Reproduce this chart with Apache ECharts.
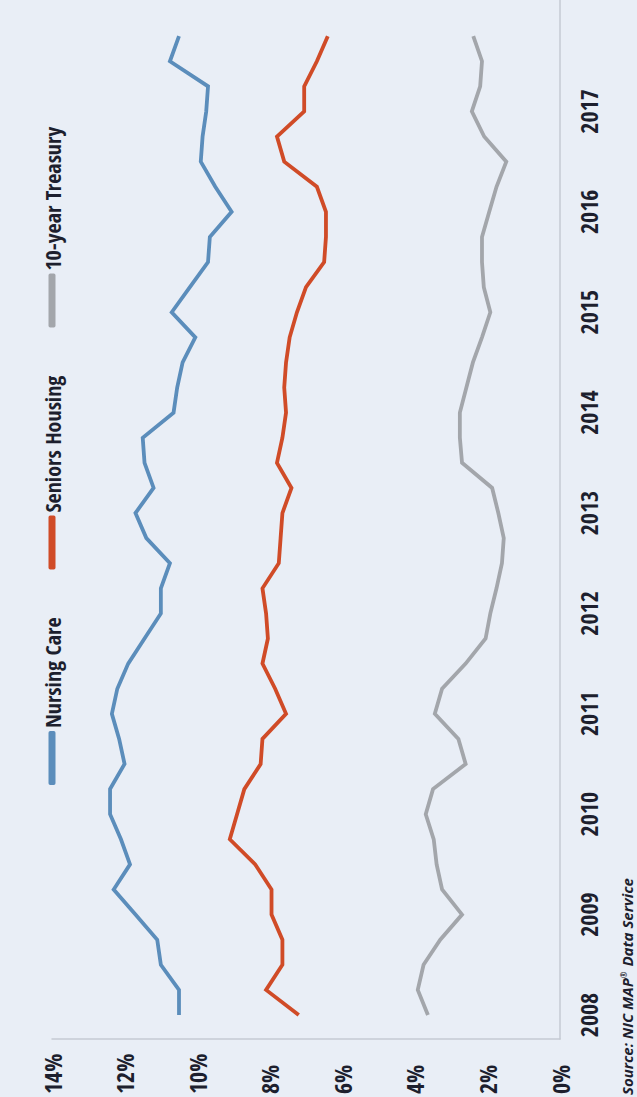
<!DOCTYPE html>
<html>
<head>
<meta charset="utf-8">
<script src="https://cdn.jsdelivr.net/npm/echarts@6/dist/echarts.min.js"></script>
<style>
html, body { margin: 0; padding: 0; width: 637px; height: 1097px; overflow: hidden; background: #e9eef6; }
#chart { position: absolute; left: 0; top: 0; width: 1097px; height: 637px;
  transform-origin: 0 0; transform: translate(0, 1097px) rotate(-90deg); }
#chart text[style*="Condensed"] { font-stretch: condensed !important; }
</style>
</head>
<body>
<div id="chart"></div>
<script>
// ---- data ----
const years = [2008, 2009, 2010, 2011, 2012, 2013, 2014, 2015, 2016, 2017];
const quarters = ['Q1', 'Q2', 'Q3', 'Q4'];
const seriesNames = ['Nursing Care', 'Seniors Housing', '10-year Treasury'];
const nursingCare = [10.5, 10.5, 11.0, 11.1, 11.7, 12.3, 11.85, 12.1, 12.4, 12.4,
  12.0, 12.15, 12.35, 12.2, 11.9, 11.45, 11.0, 11.0, 10.75, 11.4,
  11.7, 11.2, 11.45, 11.5, 10.65, 10.55, 10.4, 10.05, 10.7, 10.2,
  9.7, 9.65, 9.05, 9.5, 9.9, 9.85, 9.75, 9.7, 10.75, 10.5];
const seniorsHousing = [7.2, 8.1, 7.65, 7.65, 7.95, 7.95, 8.4, 9.1, 8.9, 8.7,
  8.25, 8.2, 7.55, 7.85, 8.2, 8.05, 8.1, 8.2, 7.75, 7.7,
  7.65, 7.4, 7.8, 7.65, 7.55, 7.6, 7.55, 7.45, 7.25, 7.0,
  6.5, 6.45, 6.45, 6.7, 7.6, 7.8, 7.05, 7.05, 6.7, 6.4];
const treasury10y = [3.64, 3.92, 3.76, 3.3, 2.7, 3.25, 3.4, 3.48, 3.7, 3.5,
  2.6, 2.8, 3.45, 3.25, 2.6, 2.05, 1.92, 1.75, 1.6, 1.55,
  1.7, 1.87, 2.7, 2.76, 2.76, 2.58, 2.4, 2.15, 1.92, 2.1,
  2.15, 2.15, 1.95, 1.75, 1.48, 2.09, 2.43, 2.2, 2.15, 2.39];
const valueTicks = { min: 0, max: 14, step: 2 };

// quarter positions on a numeric time scale (year + quarter fraction)
const periods = [];
years.forEach(y => quarters.forEach((q, qi) => periods.push(y + qi / 4)));

const FONT = '"Noto Sans Condensed", "Open Sans Condensed", "Noto Sans SemiCondensed", "Noto Sans", sans-serif';
const TXT = '#1d1f2e';
const colors = ['#5b8dbb', '#d04b27', '#a3a6ab'];
const seriesData = [nursingCare, seniorsHousing, treasury10y];

const chart = echarts.init(document.getElementById('chart'), null, { renderer: 'svg' });
chart.setOption({
  animation: false,
  backgroundColor: '#e9eef6',
  title: {
    text: 'Source: NIC MAP{r|®} Data Service', left: 2, top: 619, padding: 0,
    textStyle: {
      fontFamily: '"Open Sans", sans-serif', fontStyle: 'italic', fontWeight: 'bold', fontSize: 15, color: TXT,
      rich: { r: { fontFamily: '"Open Sans", sans-serif', fontStyle: 'italic', fontWeight: 'bold', fontSize: 8, color: TXT, verticalAlign: 'top', padding: [0, 1, 0, 0] } }
    }
  },
  legend: {
    data: seriesNames, left: 307, top: 36, itemGap: 48, width: 780,
    icon: 'roundRect', itemWidth: 54, itemHeight: 7,
    textStyle: { fontFamily: FONT, fontWeight: 'bold', fontSize: 22, color: TXT, padding: [0, 0, 0, -2] }
  },
  grid: { left: 58, right: 0, top: 52, bottom: 77, containLabel: false },
  xAxis: {
    type: 'value', min: 2007.761, max: 2018.11,
    axisLine: { show: true, lineStyle: { color: '#c5cad3', width: 1.5 } },
    axisTick: { show: false },
    splitLine: { show: false },
    axisLabel: {
      customValues: years, formatter: v => String(v),
      fontFamily: FONT, fontWeight: 'bold', fontSize: 24, color: TXT, margin: 16
    }
  },
  yAxis: {
    type: 'value', min: valueTicks.min, max: valueTicks.max, interval: valueTicks.step,
    axisLine: { show: true, lineStyle: { color: '#c5cad3', width: 1.5 } },
    axisTick: { show: false },
    splitLine: { show: false },
    axisLabel: {
      formatter: '{value}%', align: 'left', margin: 55,
      fontFamily: FONT, fontWeight: 'bold', fontSize: 24, color: TXT
    }
  },
  series: seriesNames.map((name, k) => ({
    name, type: 'line', symbol: 'none', color: colors[k],
    lineStyle: { width: 3.8, color: colors[k], join: 'miter' },
    data: periods.map((t, i) => [t, seriesData[k][i]])
  }))
});
</script>
</body>
</html>
